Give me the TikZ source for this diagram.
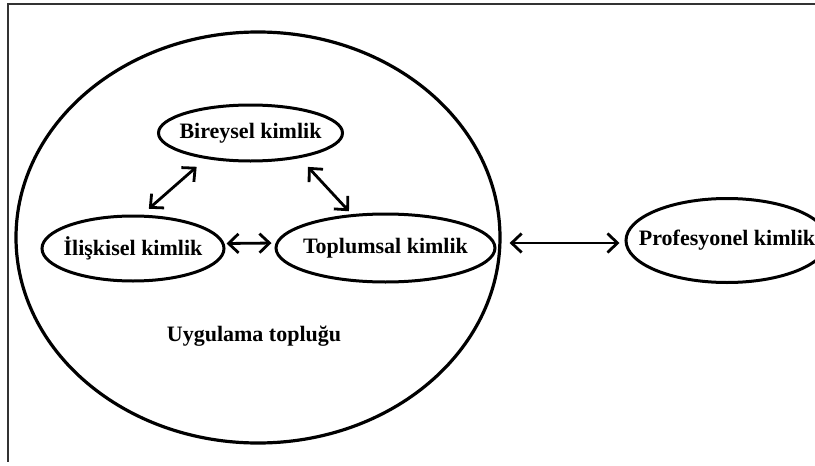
\documentclass[tikz,border=0pt]{standalone}
\usepackage{fontspec}
\setmainfont{Liberation Serif}
\usetikzlibrary{shapes.geometric,arrows.meta}

\begin{document}
\begin{tikzpicture}[x=1pt,y=-1pt,
  oval/.style={ellipse,draw=black,line width=3pt,inner sep=0pt,
    font=\fontsize{22}{24}\selectfont\bfseries},
  link/.style={line width=2.8pt,{Straight Barb[length=10pt,width=19pt,line width=2.8pt]}-{Straight Barb[length=10pt,width=19pt,line width=2.8pt]}},
  caption/.style={font=\fontsize{22}{24}\selectfont\bfseries}]
  % page area
  \fill[white] (0,0) rectangle (815,466);
  \clip (0,0) rectangle (815,466);
  % thin frame along the top and left edges
  \draw[line width=1.3pt,black!80] (815,4) -- (8,4) -- (8,462);

  % community of practice
  \node[ellipse,draw=black,line width=3.2pt,minimum width=484pt,minimum height=411pt,inner sep=0pt] (big) at (258,237.5) {};

  % identity ovals
  \node[oval,minimum width=184pt,minimum height=56pt] (bir) at (250.5,133) {\makebox[0pt]{Bireysel kimlik}};
  \node[oval,minimum width=182pt,minimum height=65pt] (ili) at (133,248.5) {\makebox[0pt]{İlişkisel kimlik}};
  \node[oval,minimum width=219pt,minimum height=68pt] (tog) at (385.5,248) {\makebox[0pt]{Toplumsal kimlik}};
  \node[oval,minimum width=202pt,minimum height=84pt] (prof) at (727,240.5) {\makebox[0pt]{Profesyonel kimlik}};

  \node[caption] (uyg) at (254,336) {Uygulama topluğu};

  % two-way links
  \draw[link,shorten <=12pt,shorten >=9pt] (bir.210) -- (ili.75);
  \draw[link,shorten <=12pt,shorten >=4pt] (bir.333) -- (tog.135);
  \draw[link,shorten <=1pt,shorten >=3pt] ([yshift=5pt]ili.east) -- ([yshift=5pt]tog.west);
  \draw[link,shorten <=8pt,shorten >=5pt] ([yshift=-5.5pt]big.east) -- ([yshift=-2.5pt]prof.west);
\end{tikzpicture}
\end{document}
